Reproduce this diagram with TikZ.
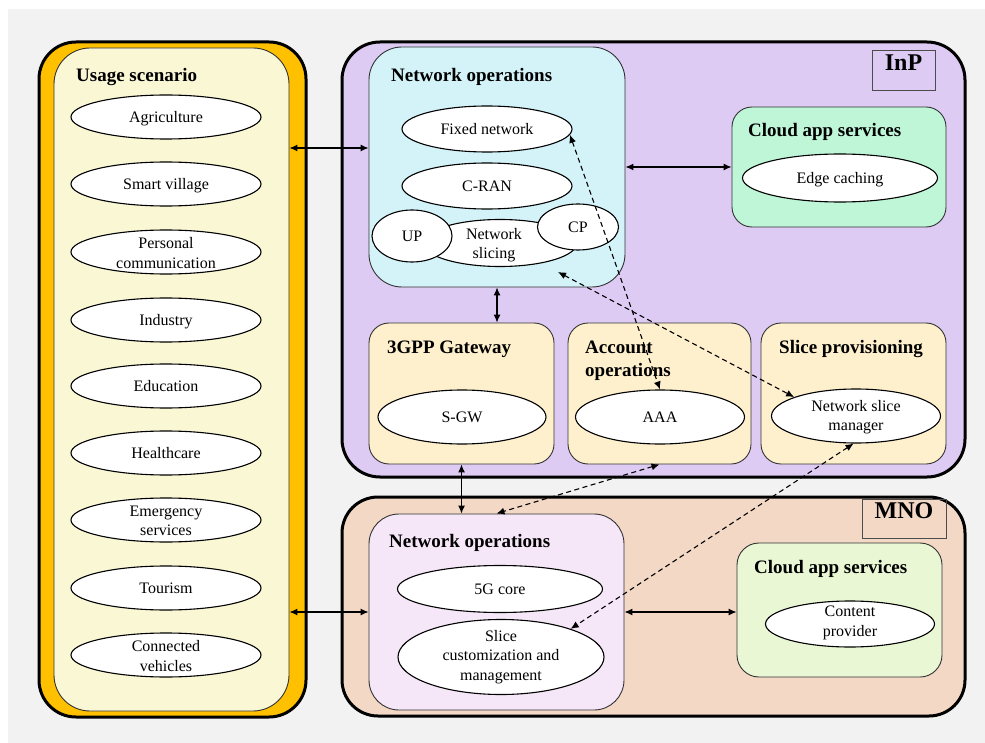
\documentclass[tikz,border=0pt]{standalone}
\usepackage{fontspec}
\setmainfont{Liberation Serif}
\usetikzlibrary{shapes.geometric,arrows.meta,fit}

\definecolor{bgGrey}{HTML}{F2F2F2}
\definecolor{usageOrange}{HTML}{FFC000}
\definecolor{usageCream}{HTML}{FAF7D5}
\definecolor{inpLilac}{HTML}{DDCBF4}
\definecolor{opsCyan}{HTML}{D3F3F9}
\definecolor{cloudMint}{HTML}{BFF6D8}
\definecolor{unitBeige}{HTML}{FEF0CD}
\definecolor{mnoPeach}{HTML}{F2D8C5}
\definecolor{mopsPink}{HTML}{F5E6F8}
\definecolor{cloudLime}{HTML}{E9F7D5}

\begin{document}
\begin{tikzpicture}[x=1pt,y=-1pt,
  every node/.style={font=\fontsize{16}{19.5}\selectfont},
  frame/.style={draw=black, line width=3pt, rounded corners=36pt, inner sep=0pt},
  panel/.style={draw=black!80, line width=0.9pt, inner sep=0pt},
  oval/.style={ellipse, draw=black, line width=1.1pt, fill=white, inner sep=0pt,
               text height=13pt, text depth=2pt},
  ovaltext/.style={align=center, inner sep=0pt, yshift=-1pt},
  heading/.style={anchor=base west, inner sep=0pt, font=\fontsize{19}{22}\selectfont\bfseries},
  tag/.style={draw=black!70, line width=1pt, inner sep=0pt, font=\fontsize{24}{28}\selectfont\bfseries},
  link/.style={{Latex[length=8pt,width=7pt]}-{Latex[length=8pt,width=7pt]}, line width=1.1pt},
  dlink/.style={link, dash pattern=on 5pt off 3.5pt}
]
\useasboundingbox (0,0) rectangle (985,743);
\fill[bgGrey] (8,9) rectangle (985,743);

% ---------- usage scenarios ----------
\node[frame, fill=usageOrange, rounded corners=37pt, fit={(39,42) (306,717)}] (usageframe) {};
\node[panel, fill=usageCream, rounded corners=36pt, fit={(54,48) (289,711)}] (usage) {};
\node[heading] (usageTitle) at (76,82) {Usage scenario};
\node[oval, minimum width=190pt, minimum height=44pt] (agri) at (166,117) {Agriculture};
\node[oval, minimum width=190pt, minimum height=44pt] (village) at (166,184) {Smart village};
\node[oval, minimum width=190pt, minimum height=44pt,
      label={[ovaltext]center:{Personal\\communication}}] (personal) at (166,252) {};
\node[oval, minimum width=190pt, minimum height=44pt] (industry) at (166,320) {Industry};
\node[oval, minimum width=190pt, minimum height=44pt] (edu) at (166,386) {Education};
\node[oval, minimum width=190pt, minimum height=44pt] (health) at (166,453) {Healthcare};
\node[oval, minimum width=190pt, minimum height=44pt,
      label={[ovaltext]center:{Emergency\\services}}] (emergency) at (166,520) {};
\node[oval, minimum width=190pt, minimum height=44pt] (tourism) at (166,588) {Tourism};
\node[oval, minimum width=190pt, minimum height=44pt,
      label={[ovaltext]center:{Connected\\vehicles}}] (vehicles) at (166,655) {};

% ---------- infrastructure provider ----------
\node[frame, fill=inpLilac, rounded corners=38pt, fit={(342,42) (965,477)}] (inp) {};
\node[tag, fit={(872,51) (935,91)}] (inptag) {InP};

\node[panel, fill=opsCyan, rounded corners=33pt, fit={(369,47) (625,287)}] (ops) {};
\node[heading] (opsTitle) at (391,82) {Network operations};
\node[oval, minimum width=170pt, minimum height=46pt] (fixed) at (487,129) {Fixed network};
\node[oval, minimum width=170pt, minimum height=46pt] (cran) at (487,186) {C-RAN};
\node[oval, minimum width=154pt, minimum height=47pt,
      label={[ovaltext, xshift=-6pt, yshift=-1pt]center:{Network\\slicing}}] (slicing) at (500,243) {};
\node[oval, minimum width=80pt, minimum height=52pt] (up) at (412,236) {UP};
\node[oval, minimum width=81pt, minimum height=46pt] (cp) at (578,227) {CP};

\node[panel, fill=cloudMint, rounded corners=20pt, fit={(732,107) (946,227)}] (cloudA) {};
\node[heading] (cloudATitle) at (748,137) {Cloud app services};
\node[oval, minimum width=195pt, minimum height=48pt] (edge) at (840,178) {Edge caching};

\node[panel, fill=unitBeige, rounded corners=20pt, fit={(369,323) (554,464)}] (gw) {};
\node[heading] (gwTitle) at (387,353) {3GPP Gateway};
\node[oval, minimum width=168pt, minimum height=54pt] (sgw) at (462,417) {S-GW};

\node[panel, fill=unitBeige, rounded corners=20pt, fit={(568,323) (751,464)}] (acc) {};
\node[heading] (accTitleA) at (585,353) {Account};
\node[heading] (accTitleB) at (585,376) {operations};
\node[oval, minimum width=169pt, minimum height=54pt] (aaa) at (660,417) {AAA};

\node[panel, fill=unitBeige, rounded corners=20pt, fit={(761,323) (946,464)}] (prov) {};
\node[heading] (provTitle) at (779,353) {Slice provisioning};
\node[oval, minimum width=169pt, minimum height=54pt,
      label={[ovaltext]center:{Network slice\\manager}}] (nsm) at (856,416) {};

% ---------- mobile network operator ----------
\node[frame, fill=mnoPeach, rounded corners=36pt, fit={(342,497) (965,716)}] (mno) {};
\node[tag, fit={(862,499) (946,538)}] (mnotag) {MNO};

\node[panel, fill=mopsPink, rounded corners=30pt, fit={(369,514) (624,710)}] (mops) {};
\node[heading] (mopsTitle) at (389,547) {Network operations};
\node[oval, minimum width=205pt, minimum height=47pt] (core) at (500,589) {5G core};
\node[oval, minimum width=206pt, minimum height=75pt,
      label={[ovaltext, yshift=1pt]center:{Slice\\customization and\\management}}] (scm) at (501,657) {};

\node[panel, fill=cloudLime, rounded corners=22pt, fit={(737,543) (942,677)}] (cloudB) {};
\node[heading] (cloudBTitle) at (754,573) {Cloud app services};
\node[oval, minimum width=169pt, minimum height=46pt,
      label={[ovaltext, yshift=2pt]center:{Content\\provider}}] (content) at (850,624) {};

% ---------- connectors ----------
\coordinate (slicingTip) at (558,272);
\draw[link] (usage.east |- 0,148) -- (ops.west |- 0,148);
\draw[link] (ops.east) -- (cloudA.west |- ops.east);
\draw[link] (ops.south) -- (ops.south |- gw.north);
\draw[link] (gw.south) -- (gw.south |- mops.north);
\draw[link] (usage.east |- mops.west) -- (mops.west);
\draw[link] (mops.east) -- (cloudB.west |- mops.east);
\draw[dlink] (fixed.-4) -- (aaa.north);
\draw[dlink] (slicingTip) -- (nsm.163);
\draw[dlink] (acc.south) -- (mops.north);
\draw[dlink] (nsm.-95) -- (scm.22);
\end{tikzpicture}
\end{document}
